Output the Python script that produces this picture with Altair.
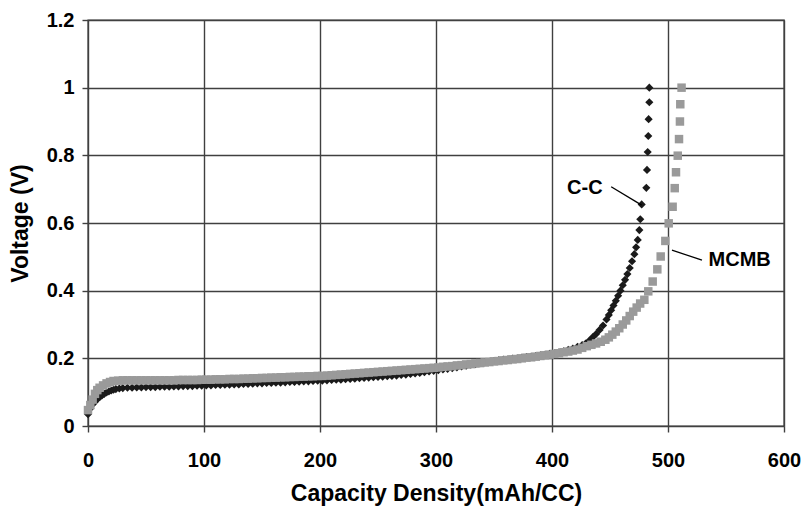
import altair as alt
import pandas as pd

# C-C series (dark diamonds): capacity density (mAh/CC), voltage (V)
cc_cap = [0, 2, 4, 6, 8, 10, 12, 14, 16, 18, 20, 22, 24, 27, 30, 34, 38, 42, 46, 50,
          54, 58, 62, 66, 70, 74, 78, 82, 86, 90, 94, 98, 102, 106, 110, 114, 118, 122,
          126, 130, 134, 138, 142, 146, 150, 154, 158, 162, 166, 170, 174, 178, 182, 186,
          190, 194, 198, 202, 206, 210, 214, 218, 222, 226, 230, 234, 238, 242, 246, 250,
          254, 258, 262, 266, 270, 274, 278, 282, 286, 290, 294, 298, 302, 306, 310, 314,
          318, 322, 326, 330, 334, 338, 342, 346, 350, 354, 358, 362, 366, 370, 374, 378,
          382, 386, 390, 394, 398, 402, 406, 410, 414, 418, 422, 426, 429, 432, 435, 438,
          441, 444, 447, 449, 451, 453, 455, 457, 459, 461, 463, 465, 467, 469, 471, 472.5,
          473.9, 475.3, 476.1, 477.3, 481.3, 481.9, 482.5, 483.0, 483.3, 483.9, 483.9]
cc_volt = [0.035, 0.052, 0.064, 0.072, 0.079, 0.085, 0.090, 0.095, 0.099, 0.102, 0.105,
           0.107, 0.109, 0.111, 0.112, 0.113, 0.113, 0.114, 0.114, 0.115, 0.115, 0.115,
           0.116, 0.116, 0.116, 0.117, 0.117, 0.118, 0.118, 0.118, 0.119, 0.119, 0.120,
           0.120, 0.121, 0.121, 0.122, 0.122, 0.123, 0.123, 0.124, 0.124, 0.125, 0.126,
           0.126, 0.127, 0.127, 0.128, 0.128, 0.129, 0.130, 0.130, 0.131, 0.132, 0.132,
           0.133, 0.134, 0.134, 0.135, 0.136, 0.137, 0.137, 0.138, 0.139, 0.140, 0.141,
           0.142, 0.143, 0.144, 0.145, 0.146, 0.147, 0.148, 0.149, 0.151, 0.152, 0.154,
           0.155, 0.157, 0.159, 0.161, 0.163, 0.165, 0.167, 0.169, 0.171, 0.173, 0.176,
           0.178, 0.181, 0.183, 0.186, 0.188, 0.190, 0.192, 0.194, 0.196, 0.197, 0.199,
           0.200, 0.202, 0.204, 0.205, 0.207, 0.209, 0.211, 0.213, 0.215, 0.218, 0.221,
           0.225, 0.229, 0.234, 0.239, 0.244, 0.252, 0.262, 0.272, 0.284, 0.297, 0.315,
           0.328, 0.342, 0.356, 0.370, 0.385, 0.400, 0.416, 0.432, 0.449, 0.467, 0.487,
           0.508, 0.528, 0.550, 0.579, 0.611, 0.655, 0.704, 0.757, 0.810, 0.857, 0.907,
           0.957, 1.000]

# MCMB series (gray squares)
mcmb_cap = [0, 2, 4, 6, 8, 10, 13, 16, 19, 22, 26, 30, 34, 38, 42, 46, 50, 54, 58, 62,
            66, 70, 74, 78, 82, 86, 90, 94, 98, 102, 106, 110, 114, 118, 122, 126, 130,
            134, 138, 142, 146, 150, 154, 158, 162, 166, 170, 174, 178, 182, 186, 190,
            194, 198, 202, 206, 210, 214, 218, 222, 226, 230, 234, 238, 242, 246, 250,
            254, 258, 262, 266, 270, 274, 278, 282, 286, 290, 294, 298, 302, 306, 310,
            314, 318, 322, 326, 330, 334, 338, 342, 346, 350, 354, 358, 362, 366, 370,
            374, 378, 382, 386, 390, 394, 398, 402, 406, 410, 414, 418, 422, 426, 430,
            434, 438, 442, 446, 449, 452, 455, 458, 461, 464, 467, 470, 473, 476, 479.6,
            483, 486.8, 490.8, 493.7, 497.7, 500.6, 504, 505.8, 506.9, 508.4, 509.5,
            510.3, 510.6, 511.7]
mcmb_volt = [0.047, 0.062, 0.078, 0.095, 0.106, 0.113, 0.120, 0.126, 0.130, 0.133, 0.134,
             0.135, 0.135, 0.135, 0.135, 0.135, 0.135, 0.135, 0.135, 0.135, 0.135, 0.135,
             0.135, 0.136, 0.136, 0.136, 0.136, 0.136, 0.137, 0.137, 0.137, 0.138, 0.138,
             0.138, 0.139, 0.139, 0.139, 0.140, 0.140, 0.141, 0.141, 0.142, 0.142, 0.143,
             0.143, 0.144, 0.144, 0.145, 0.145, 0.146, 0.146, 0.147, 0.147, 0.148, 0.148,
             0.149, 0.150, 0.151, 0.152, 0.153, 0.154, 0.155, 0.156, 0.157, 0.158, 0.159,
             0.160, 0.161, 0.162, 0.163, 0.164, 0.165, 0.166, 0.167, 0.168, 0.169, 0.170,
             0.171, 0.172, 0.173, 0.175, 0.176, 0.177, 0.179, 0.180, 0.182, 0.183, 0.185,
             0.186, 0.188, 0.189, 0.191, 0.192, 0.194, 0.195, 0.197, 0.198, 0.200, 0.202,
             0.203, 0.205, 0.207, 0.209, 0.211, 0.213, 0.215, 0.218, 0.220, 0.223, 0.226,
             0.231, 0.236, 0.240, 0.244, 0.249, 0.255, 0.262, 0.270, 0.279, 0.289, 0.300,
             0.312, 0.325, 0.338, 0.350, 0.362, 0.373, 0.398, 0.427, 0.463, 0.501, 0.547,
             0.599, 0.648, 0.703, 0.750, 0.799, 0.848, 0.900, 0.951, 1.000]

x_ticks = [0, 100, 200, 300, 400, 500, 600]
y_ticks = [0, 0.2, 0.4, 0.6, 0.8, 1.0, 1.2]

# annotation labels and leader lines (data coordinates)
label_text = ["C-C", "MCMB"]
label_cap = [413, 535]
label_volt = [0.703, 0.49]
leader_cap = [451, 503.4]
leader_cap2 = [477.3, 529.3]
leader_volt = [0.707, 0.52]
leader_volt2 = [0.653, 0.49]

FONT = "Liberation Sans"
GRID = "#404040"

cc = pd.DataFrame({"cap": cc_cap, "v": cc_volt})
mc = pd.DataFrame({"cap": mcmb_cap, "v": mcmb_volt})
labels = pd.DataFrame({"t": label_text, "cap": label_cap, "v": label_volt})
leaders = pd.DataFrame({"cap": leader_cap, "cap2": leader_cap2,
                        "v": leader_volt, "v2": leader_volt2})

xs = alt.Scale(domain=[0, 600], nice=False)
ys = alt.Scale(domain=[0, 1.2], nice=False)

xax = alt.Axis(values=x_ticks, title="Capacity Density(mAh/CC)", grid=True,
               gridColor=GRID, gridWidth=1.4, tickColor=GRID, tickWidth=1.4, tickSize=6,
               domain=False, labelFont=FONT, labelFontSize=20, labelFontWeight="bold",
               labelColor="#000", labelPadding=18, titleFont=FONT, titleFontSize=23,
               titleFontWeight="bold", titleColor="#000", titlePadding=12,
               labelFlush=False)
yax = alt.Axis(values=y_ticks, title="Voltage (V)", grid=True, format="~g",
               gridColor=GRID, gridWidth=1.4, tickColor=GRID, tickWidth=1.4, tickSize=6,
               domain=False, labelFont=FONT, labelFontSize=20, labelFontWeight="bold",
               labelColor="#000", labelPadding=8, titleFont=FONT, titleFontSize=23,
               titleFontWeight="bold", titleColor="#000", titlePadding=14,
               labelFlush=False)

cc_layer = alt.Chart(cc).mark_point(shape="diamond", filled=True, size=66,
                                    color="#1a1a1a", opacity=1).encode(
    x=alt.X("cap:Q", scale=xs, axis=xax),
    y=alt.Y("v:Q", scale=ys, axis=yax),
)
mc_layer = alt.Chart(mc).mark_point(shape="square", filled=True, size=72,
                                    color="#9a9a9a", opacity=1).encode(
    x=alt.X("cap:Q", scale=xs),
    y=alt.Y("v:Q", scale=ys),
)
lead_layer = alt.Chart(leaders).mark_rule(color="#000", strokeWidth=1.3).encode(
    x=alt.X("cap:Q", scale=xs), x2="cap2:Q",
    y=alt.Y("v:Q", scale=ys), y2="v2:Q",
)
text_layer = alt.Chart(labels).mark_text(align="left", baseline="middle", font=FONT,
                                         fontSize=20, fontWeight="bold",
                                         color="#000").encode(
    x=alt.X("cap:Q", scale=xs),
    y=alt.Y("v:Q", scale=ys),
    text="t:N",
)

chart = alt.layer(cc_layer, mc_layer, lead_layer, text_layer).properties(
    width=696, height=406,
    autosize=alt.AutoSizeParams(type="none"),
    padding={"left": 88, "top": 20, "right": 22, "bottom": 85},
    background="white",
).configure_view(stroke=GRID, strokeWidth=1.4)

chart.save("out.html", embed_options={"renderer": "svg", "actions": False})
